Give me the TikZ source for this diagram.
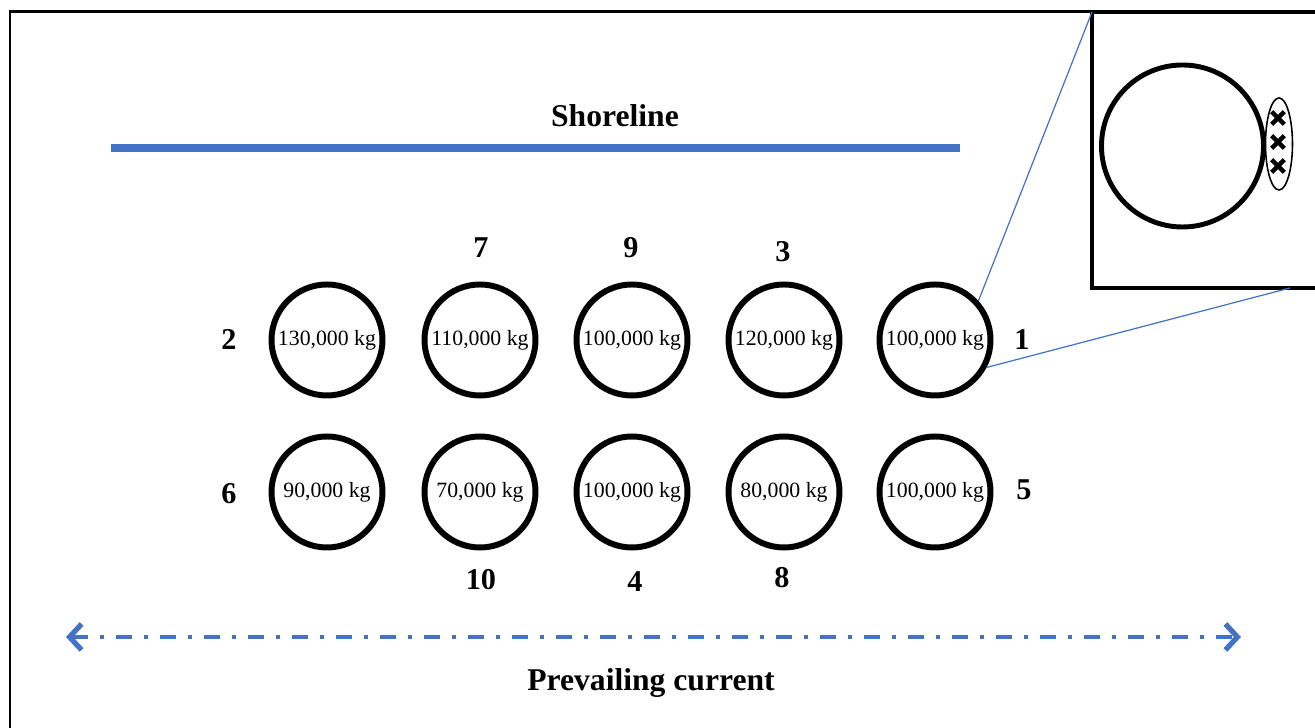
\documentclass[tikz,border=0pt]{standalone}
\usepackage{fontspec}
\setmainfont{Liberation Serif}
\usepackage{tikz}
\usetikzlibrary{arrows.meta,shapes.misc,positioning}

\definecolor{wordblue}{HTML}{4472C4}

\tikzset{
    cage/.style={circle, draw, line width=1.7pt, minimum size=1.11cm, inner sep=0pt,
                 font=\fontsize{6.2}{7}\selectfont},
    num/.style={font=\fontsize{8.6}{10}\selectfont\bfseries, inner sep=1pt},
    caption/.style={font=\fontsize{9}{11}\selectfont\bfseries, inner sep=1pt},
    sample/.style={cross out, draw, line width=1.3pt, minimum size=0.08cm, inner sep=0pt}
}

\begin{document}
\begin{tikzpicture}

        \useasboundingbox (0,0) rectangle (13.15,7.28);
        \clip (0,0) rectangle (13.15,7.28);

            % frame of the figure
            \draw[line width=0.85pt] (0.10,-0.50) -- (0.10,7.16) -- (10.92,7.16);

            % shoreline
            \coordinate (shoreW) at (1.11,5.80);
            \coordinate (shoreE) at (9.60,5.80);
            \draw[wordblue, line width=2.3pt] (shoreW) -- (shoreE);
            \node[caption] (shoretext) at (6.15,6.12) {Shoreline};

            % upper row of cages
            \node[cage] (cage2) at (3.27,3.88) {130,000 kg};
            \node[cage] (cage7) at (4.80,3.88) {110,000 kg};
            \node[cage] (cage9) at (6.32,3.88) {100,000 kg};
            \node[cage] (cage3) at (7.84,3.88) {120,000 kg};
            \node[cage] (cage1) at (9.35,3.88) {100,000 kg};

            % lower row of cages
            \node[cage] (cage6) at (3.27,2.36) {90,000 kg};
            \node[cage] (cage10) at (4.80,2.36) {70,000 kg};
            \node[cage] (cage4) at (6.32,2.36) {100,000 kg};
            \node[cage] (cage8) at (7.84,2.36) {80,000 kg};
            \node[cage] (cage5) at (9.35,2.36) {100,000 kg};

            % cage numbers
            \node[num] (lab2) at (2.29,3.88) {2};
            \node[num] (lab7) at (4.81,4.80) {7};
            \node[num] (lab9) at (6.31,4.80) {9};
            \node[num] (lab3) at (7.83,4.76) {3};
            \node[num] (lab1) at (10.22,3.88) {1};
            \node[num] (lab6) at (2.29,2.34) {6};
            \node[num] (lab10) at (4.81,1.48) {10};
            \node[num] (lab4) at (6.35,1.46) {4};
            \node[num] (lab8) at (7.82,1.50) {8};
            \node[num] (lab5) at (10.24,2.38) {5};

            % prevailing current
            \coordinate (curW) at (0.66,0.91);
            \coordinate (curE) at (12.41,0.91);
            \draw[wordblue, line width=1.1pt,
                  dash pattern=on 1.6mm off 1.2mm on 0.4mm off 1.2mm,
                  {Straight Barb[length=1.2mm,width=2.6mm,line width=1.5pt]}-{Straight Barb[length=1.2mm,width=2.6mm,line width=1.5pt]}]
                  (curW) -- (curE);
            \node[caption] (curtext) at (6.51,0.45) {Prevailing current};

            % close-up of cage 1
            \coordinate (zoomNW) at (10.92,7.16);
            \coordinate (zoomSW) at (10.92,4.40);
            \coordinate (zoomS) at (12.90,4.40);
            \fill[white] (zoomSW) rectangle (13.60,7.16);
            \draw[line width=1.2pt] (13.60,7.16) -- (zoomNW) -- (zoomSW) -- (13.60,4.40);

            \draw[line width=1.4pt] (11.825,5.82) circle (0.81);
            \draw[line width=0.45pt] (12.79,5.84) ellipse (0.135 and 0.46);
            \node[sample] (x1) at (12.78,6.10) {};
            \node[sample] (x2) at (12.78,5.86) {};
            \node[sample] (x3) at (12.78,5.62) {};

            \draw[wordblue, line width=0.35pt] (cage1.42) -- (zoomNW);
            \draw[wordblue, line width=0.35pt] (cage1.-28) -- (zoomS);

\end{tikzpicture}
\end{document}
